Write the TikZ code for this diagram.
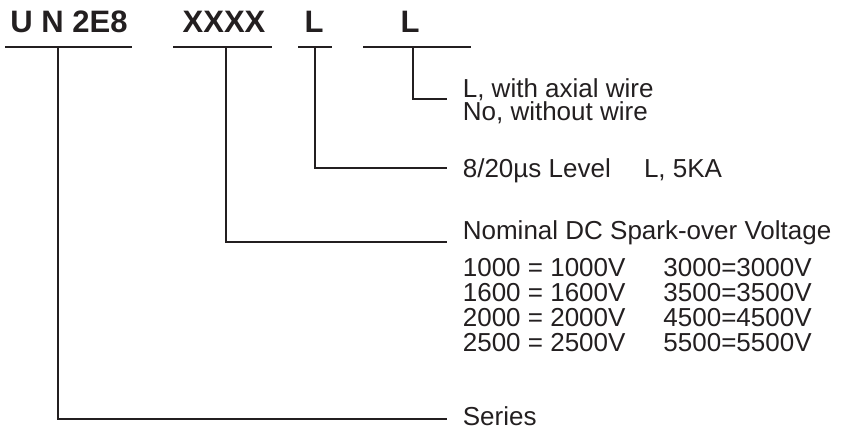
\documentclass[tikz,border=0pt]{standalone}
\usepackage{fontspec}
\setmainfont{Liberation Sans}
\usepackage{tikz}
\usetikzlibrary{positioning}
\definecolor{ink}{HTML}{231F20}

\begin{document}
\begin{tikzpicture}[x=1pt, y=-1pt, line width=1.7pt, draw=ink, text=ink,
  code/.style={font=\bfseries\fontsize{31}{31}\selectfont, anchor=base, inner sep=0pt},
  desc/.style={font=\fontsize{26}{23}\selectfont, anchor=base west, inner sep=0pt, align=left}]
  \useasboundingbox (0,0) rectangle (842,433);

  % part code along the top
  \node[code] (series) at (69,33)  {U N 2E8};
  \node[code] (volt)   at (224,33) {XXXX};
  \node[code] (level)  at (314,33) {L};
  \node[code] (wire)   at (410,33) {L};

  \draw (5,47) -- (132,47)  (173,47) -- (272,47)
        (298,47) -- (332,47) (363,47) -- (471,47);

  % stems and their ends
  \coordinate (seriesTop) at (58,47);  \coordinate (seriesEnd) at (447,419);
  \coordinate (voltTop)   at (226,47); \coordinate (voltEnd)   at (447,242);
  \coordinate (levelTop)  at (315,47); \coordinate (levelEnd)  at (447,168);
  \coordinate (wireTop)   at (413,47); \coordinate (wireEnd)   at (447,99);

  \draw (seriesTop) |- (seriesEnd);
  \draw (voltTop)   |- (voltEnd);
  \draw (levelTop)  |- (levelEnd);
  \draw (wireTop)   |- (wireEnd);

  % descriptions (base of a two-line node is its last line)
  \node[desc] (wireTxt)   at (462,121) {L, with axial wire\\No, without wire};
  \node[desc] (levelTxt)  at (462,177) {8/20µs Level\hspace{26pt} L, 5KA};
  \node[desc] (voltTxt)   at (462,239) {Nominal DC Spark-over Voltage};
  \node[desc] (voltTab)   at (462,276) {%
    \begin{tabular}[t]{@{}l@{\hspace{38pt}}l@{}}
      1000 = 1000V & 3000=3000V\\
      1600 = 1600V & 3500=3500V\\
      2000 = 2000V & 4500=4500V\\
      2500 = 2500V & 5500=5500V
    \end{tabular}};
  \node[desc] (seriesTxt) at (462,425) {Series};
\end{tikzpicture}
\end{document}
